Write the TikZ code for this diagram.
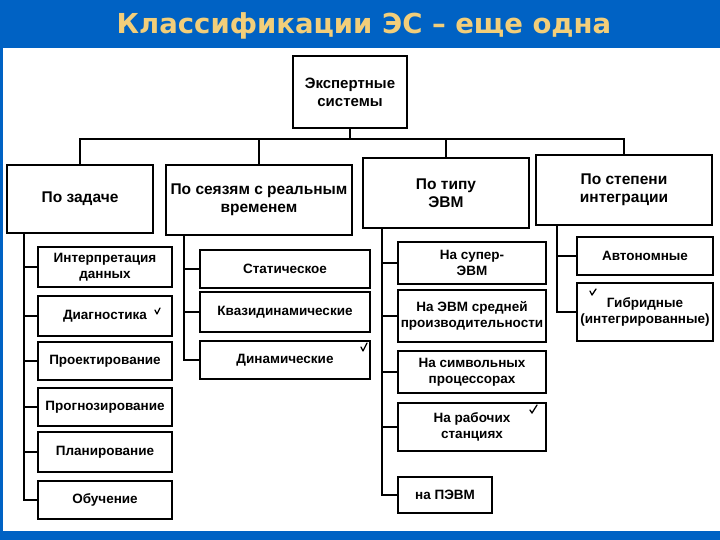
\documentclass[tikz,border=0pt]{standalone}
\usepackage{fontspec}
\setmainfont{Liberation Sans}
\newfontfamily\titlefont{DejaVu Sans}
\usetikzlibrary{positioning}
\definecolor{bgblue}{RGB}{0,98,196}
\definecolor{titlecol}{RGB}{242,206,122}
\tikzset{
  conn/.style={line width=1.6pt, black},
  box/.style={draw=black, line width=1.5pt, fill=white, inner sep=1pt, align=center, font=\bfseries\fontsize{13.5}{16}\selectfont},
  topbox/.style={box, font=\bfseries\fontsize{15.5}{18}\selectfont},
  tick/.style={line width=1.3pt, line cap=round, line join=round}
}
\begin{document}
\begin{tikzpicture}[x=1pt,y=-1pt]
\useasboundingbox (0,0) rectangle (720,540);
\fill[bgblue] (0,0) rectangle (720,540);
\fill[white] (3,48) rectangle (720,531);
\node[text=titlecol, anchor=base, inner sep=0pt, font=\titlefont\bfseries\fontsize{27.5}{32}\selectfont] (title) at (364,34) {Классификации ЭС – еще одна};

% root
\node[box, font=\bfseries\fontsize{15}{18}\selectfont, minimum width=114, minimum height=72] (root) at (350,92) {Экспертные\\системы};
% level 1
\node[topbox, minimum width=146, minimum height=68] (a) at (80,199) {По задаче};
\node[topbox, minimum width=186, minimum height=70] (b) at (259,200) {По сеязям с реальным\\временем};
\node[topbox, minimum width=166, minimum height=70] (c) at (446,193) {По типу\\ЭВМ};
\node[topbox, minimum width=176, minimum height=70] (d) at (624,190) {По степени\\интеграции};

\coordinate (bus) at (0,139);
\draw[conn] (root.south) -- (root.south|-bus);
\draw[conn] (a.north) -- (a.north|-bus) -- (d.north|-bus) -- (d.north);
\draw[conn] (b.north) -- (b.north|-bus);
\draw[conn] (c.north) -- (c.north|-bus);

% column a
\node[box, minimum width=134, minimum height=40] (a1) at (105,267) {Интерпретация\\данных};
\node[box, minimum width=134, minimum height=40] (a2) at (105,316) {Диагностика};
\node[box, minimum width=134, minimum height=38] (a3) at (105,361) {Проектирование};
\node[box, minimum width=134, minimum height=38] (a4) at (105,407) {Прогнозирование};
\node[box, minimum width=134, minimum height=40] (a5) at (105,452) {Планирование};
\node[box, minimum width=134, minimum height=38] (a6) at (105,500) {Обучение};
\coordinate (va) at ([xshift=18pt]a.south west);
\draw[conn] (va) |- (a6.west);
\foreach \n in {a1,a2,a3,a4,a5} \draw[conn] (\n.west) -- (\n.west-|va);

% column b
\node[box, minimum width=170, minimum height=38] (b1) at (285,269) {Статическое};
\node[box, minimum width=170, minimum height=40] (b2) at (285,312) {Квазидинамические};
\node[box, minimum width=170, minimum height=38] (b3) at (285,360) {Динамические};
\coordinate (vb) at ([xshift=19pt]b.south west);
\draw[conn] (vb) |- (b3.west);
\foreach \n in {b1,b2} \draw[conn] (\n.west) -- (\n.west-|vb);

% column c
\node[box, minimum width=148, minimum height=42] (c1) at (472,263) {На супер-\\ЭВМ};
\node[box, minimum width=148, minimum height=52] (c2) at (472,316) {На ЭВМ средней\\производительности};
\node[box, minimum width=148, minimum height=42] (c3) at (472,372) {На символьных\\процессорах};
\node[box, minimum width=148, minimum height=48] (c4) at (472,427) {На рабочих\\станциях};
\node[box, minimum width=94, minimum height=36] (c5) at (445,495) {на ПЭВМ};
\coordinate (vc) at ([xshift=20pt]c.south west);
\draw[conn] (vc) |- (c5.west);
\foreach \n in {c1,c2,c3,c4} \draw[conn] (\n.west) -- (\n.west-|vc);

% column d
\node[box, minimum width=136, minimum height=38] (d1) at (645,256) {Автономные};
\node[box, minimum width=136, minimum height=58] (d2) at (645,312) {Гибридные\\(интегрированные)};
\coordinate (vd) at ([xshift=22pt]d.south west);
\draw[conn] (vd) |- (d2.west);
\draw[conn] (d1.west) -- (d1.west-|vd);

% check marks
\draw[tick] (155,310) -- (157,314) -- (160,308);
\draw[tick] (361,347) -- (363,351) -- (367,343);
\draw[tick] (530,410) -- (532,413) -- (537,405);
\draw[tick] (590,291) -- (592,295) -- (596,289);
\end{tikzpicture}
\end{document}
